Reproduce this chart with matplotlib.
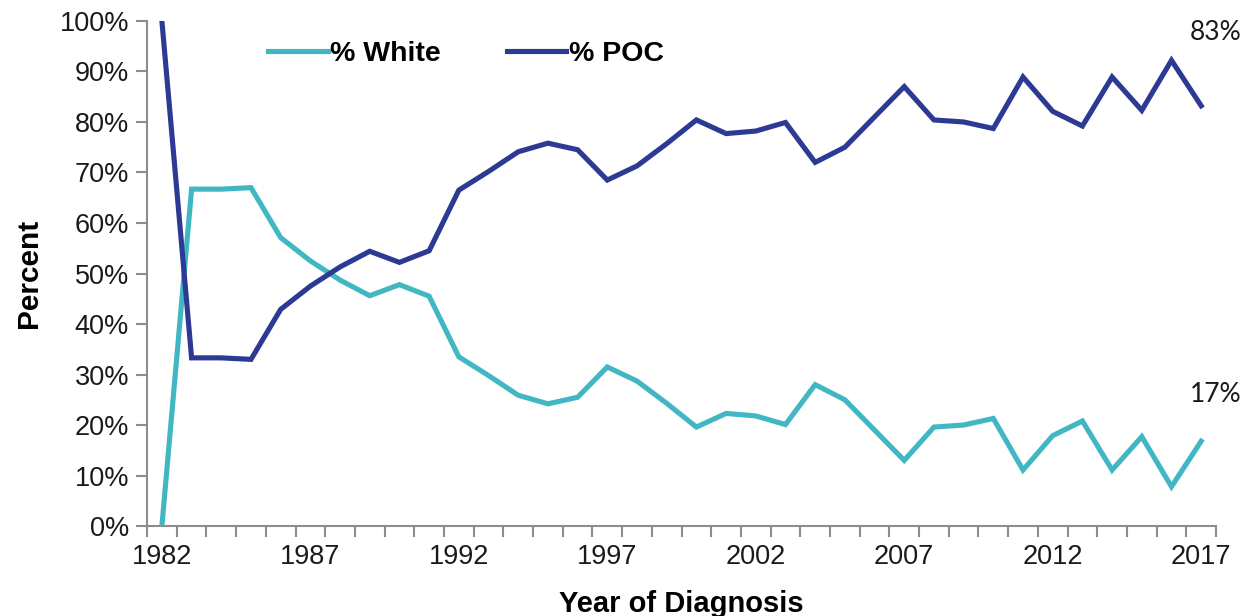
import matplotlib
matplotlib.use("Agg")
import matplotlib.pyplot as plt
from matplotlib.ticker import FixedLocator, FuncFormatter

years = list(range(1982, 2018))
pct_white = [0.0, 66.7, 66.7, 67.0, 57.1, 52.5, 48.7, 45.6, 47.8, 45.5,
             33.5, 29.8, 25.9, 24.2, 25.5, 31.5, 28.7, 24.3, 19.6, 22.3,
             21.8, 20.1, 28.0, 25.0, 19.0, 13.0, 19.6, 20.0, 21.3, 11.1,
             17.9, 20.8, 11.1, 17.7, 7.8, 16.8]
pct_poc = [100.0, 33.3, 33.3, 33.0, 42.9, 47.5, 51.3, 54.4, 52.2, 54.5,
           66.5, 70.2, 74.1, 75.8, 74.5, 68.5, 71.3, 75.7, 80.4, 77.7,
           78.2, 79.9, 72.0, 75.0, 81.0, 87.0, 80.4, 80.0, 78.7, 88.9,
           82.1, 79.2, 88.9, 82.3, 92.2, 83.2]
series_labels = ["% White", "% POC"]
end_labels = ["83%", "17%"]
tick_years = [1982, 1987, 1992, 1997, 2002, 2007, 2012, 2017]

plt.rcParams['font.family'] = ['Liberation Sans', 'DejaVu Sans']

fig = plt.figure(figsize=(12.43, 6.16), dpi=100)
ax = fig.add_axes([0.1183, 0.146, 0.860, 0.820])

idx = list(range(len(years)))
ax.plot(idx, pct_white, color="#41B7C4", lw=3.7, label=series_labels[0], solid_joinstyle='miter')
ax.plot(idx, pct_poc, color="#2C3A93", lw=3.7, label=series_labels[1], solid_joinstyle='miter')

ax.set_xlim(-0.5, len(years) - 0.5)
ax.set_ylim(0, 100)

# ticks at category boundaries, labels at category centres
ax.xaxis.set_major_locator(FixedLocator([i - 0.5 for i in range(len(years) + 1)]))
ax.xaxis.set_major_formatter(FuncFormatter(lambda v, p: ""))
label_pos = [years.index(y) for y in tick_years]
ax.xaxis.set_minor_locator(FixedLocator(label_pos))
ax.xaxis.set_minor_formatter(FuncFormatter(lambda v, p: str(years[int(round(v))])))
ax.tick_params(axis='x', which='major', length=8, width=1.5, color="#8C8C8C", direction='out')
ax.tick_params(axis='x', which='minor', length=0, labelsize=19.5, pad=13, labelcolor="#1a1a1a")

ax.set_yticks(range(0, 101, 10))
ax.yaxis.set_major_formatter(FuncFormatter(lambda v, p: f"{int(v)}%"))
ax.tick_params(axis='y', length=8, width=1.5, color="#8C8C8C", direction='out', labelsize=19.5, pad=5,
               labelcolor="#1a1a1a")

for s in ['top', 'right']:
    ax.spines[s].set_visible(False)
for s in ['left', 'bottom']:
    ax.spines[s].set_color("#8C8C8C")
    ax.spines[s].set_linewidth(1.5)

ax.set_ylabel("Percent", fontsize=21.5, fontweight='bold', labelpad=12)
ax.set_xlabel("Year of Diagnosis", fontsize=21, fontweight='bold', labelpad=14)

leg = ax.legend(loc='upper left', bbox_to_anchor=(0.089, 1.012), ncol=2, frameon=False,
                handlelength=2.1, handletextpad=0.1, columnspacing=2.3,
                prop={'family': 'Liberation Sans', 'weight': 'bold', 'size': 20.5})

ax.text(1.0, 0.978, end_labels[0], transform=ax.transAxes, ha='center', va='center',
        fontsize=19, family=['Lato', 'DejaVu Sans'], color="#1a1a1a", clip_on=False)
ax.text(1.0, 0.26, end_labels[1], transform=ax.transAxes, ha='center', va='center',
        fontsize=19, family=['Lato', 'DejaVu Sans'], color="#1a1a1a", clip_on=False)

fig.savefig("out.png", dpi=100)
